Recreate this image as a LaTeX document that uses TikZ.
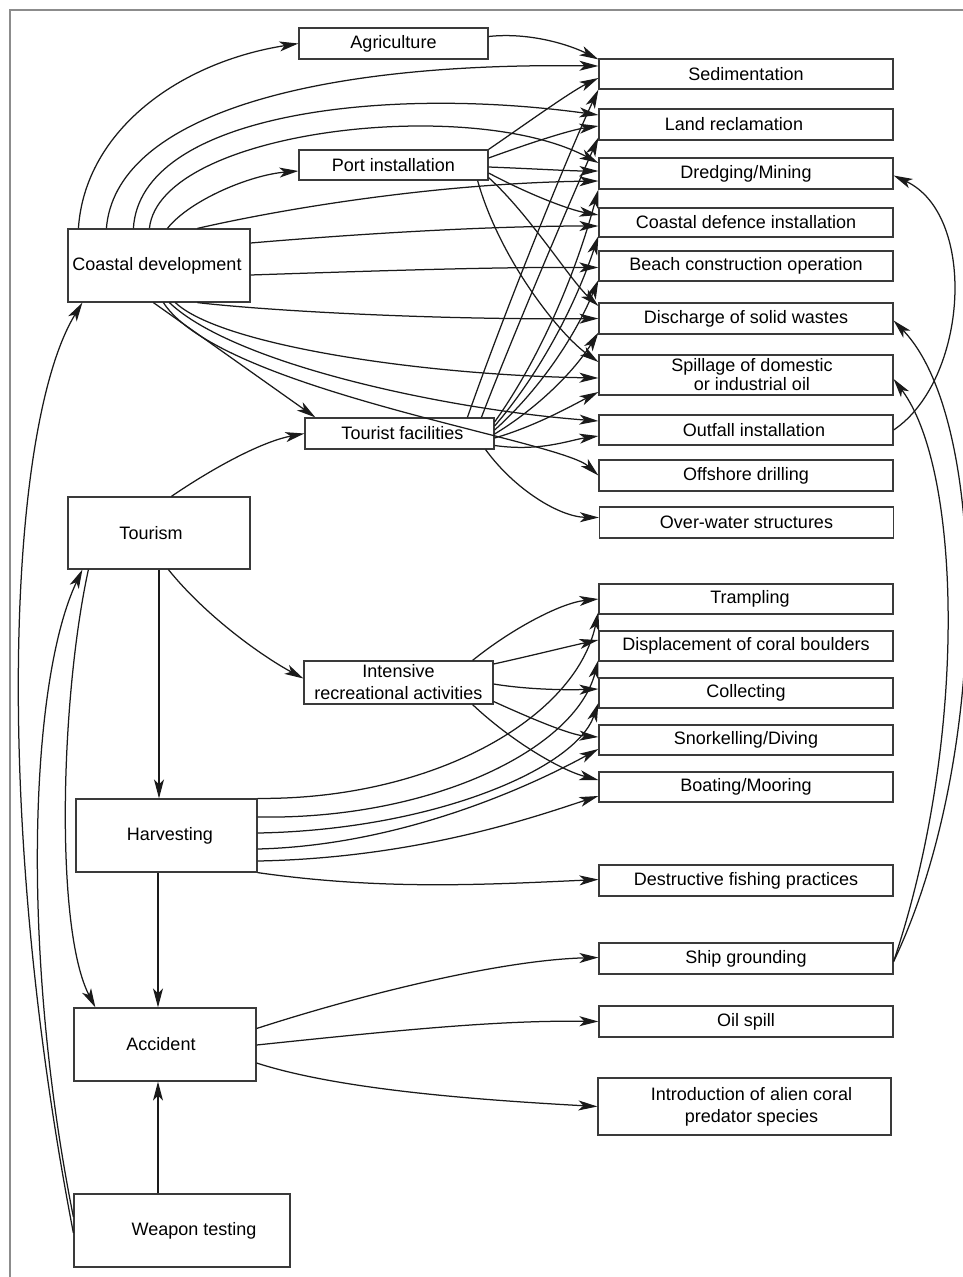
\documentclass[tikz,border=0pt]{standalone}
\usepackage{fontspec}
\setmainfont{Liberation Sans}
\usetikzlibrary{arrows.meta,calc}
\definecolor{boxc}{HTML}{3A3A3A}
\definecolor{linec}{HTML}{1A1A1A}
\definecolor{framec}{HTML}{8C8C8C}
\begin{document}
\begin{tikzpicture}[x=1pt,y=-1pt,
  box/.style={draw=boxc,line width=1.2pt,inner sep=0pt,align=center,font=\fontsize{18pt}{22pt}\selectfont},
  rbox/.style={box,minimum width=294pt,minimum height=#1},
  lbox/.style={box,minimum width=189pt,minimum height=#1},
  arr/.style={draw=linec,line width=1.25pt,-{Stealth[length=19pt,width=10pt,inset=5pt]}},
  frm/.style={draw=framec,line width=1.5pt}]
\useasboundingbox (0,0) rectangle (962,1277);
\draw[frm] (975,10) -- (10,10) -- (10,1290);

% right column
\node[rbox=30pt] (sed) at (746,74) {Sedimentation};
\node[rbox=31pt] (lr) at (746,124.5) {\hspace*{-24pt}Land reclamation};
\node[rbox=31pt] (dm) at (746,173.5) {Dredging/Mining};
\node[rbox=29pt] (cdi) at (746,222.5) {Coastal defence installation};
\node[rbox=30pt] (bco) at (746,266) {Beach construction operation};
\node[rbox=31pt] (dsw) at (746,318.5) {Discharge of solid wastes};
\node[rbox=40pt,font=\fontsize{18pt}{19pt}\selectfont] (sp) at (746,375) {\hspace*{12pt}Spillage of domestic\\\hspace*{12pt}or industrial oil};
\node[rbox=30pt] (oi) at (746,430) {\hspace*{16pt}Outfall installation};
\node[rbox=31pt] (od) at (746,475.5) {Offshore drilling};
\node[rbox=31pt] (ow) at (746.5,522.5) {Over-water structures};
\node[rbox=30pt] (tr) at (746,599) {\hspace*{8pt}Trampling};
\node[rbox=30pt] (dcb) at (746,646) {Displacement of coral boulders};
\node[rbox=30pt] (col) at (746,693) {Collecting};
\node[rbox=30pt] (sd) at (746,740) {Snorkelling/Diving};
\node[rbox=30pt] (bm) at (746,787) {Boating/Mooring};
\node[rbox=31pt] (dfp) at (746,880.5) {Destructive fishing practices};
\node[rbox=31pt] (sg) at (746,958.5) {Ship grounding};
\node[rbox=31pt] (os) at (746,1021.5) {Oil spill};
\node[box,minimum width=293pt,minimum height=57pt] (acp) at (744.5,1106.5) {\hspace*{14pt}Introduction of alien coral\\\hspace*{14pt}predator species};

% middle column
\node[lbox=31pt] (agr) at (393.5,43.5) {Agriculture};
\node[lbox=30pt] (pi) at (393.5,165) {Port installation};
\node[lbox=31pt] (tf) at (399.5,433.5) {\hspace*{6pt}Tourist facilities};
\node[lbox=43pt] (ira) at (398.5,682.5) {Intensive\\recreational activities};

% left column
\node[box,minimum width=182pt,minimum height=73pt] (cd) at (159,265.5) {\hspace*{-4pt}Coastal development};
\node[box,minimum width=182pt,minimum height=72pt] (tou) at (159,533) {\hspace*{-16pt}Tourism};
\node[box,minimum width=181pt,minimum height=73pt] (har) at (166.5,835.5) {\hspace*{7pt}Harvesting};
\node[box,minimum width=182pt,minimum height=73pt] (acc) at (165,1044.5) {\hspace*{-8pt}Accident};
\node[box,minimum width=216pt,minimum height=73pt] (wt) at (182,1230.5) {\hspace*{24pt}Weapon testing};

% agriculture
\draw[arr] ($(agr.east)+(0,-7)$) .. controls (530,32) and (570,45) .. ($(sed.north west)+(0,1)$);

% coastal development
\draw[arr] ($(cd.north west)+(11,0)$) .. controls (85,130) and (180,62) .. (agr.west);
\draw[arr] ($(cd.north west)+(39,0)$) .. controls (115,120) and (300,62) .. ($(sed.west)+(0,-8)$);
\draw[arr] ($(cd.north west)+(66,0)$) .. controls (140,115) and (380,85) .. ($(lr.west)+(0,-9.5)$);
\draw[arr] ($(cd.north west)+(82,0)$) .. controls (160,130) and (470,95) .. ($(dm.west)+(0,-10.5)$);
\draw[arr] ($(cd.north west)+(100,0)$) .. controls (190,200) and (250,175) .. ($(pi.west)+(0,6)$);
\draw[arr] ($(cd.north west)+(130,0)$) .. controls (300,205) and (450,183) .. ($(dm.west)+(0,7.5)$);
\draw[arr] ($(cd.east)+(0,-22.5)$) .. controls (380,232) and (500,226) .. ($(cdi.west)+(0,3.5)$);
\draw[arr] ($(cd.east)+(0,9.5)$) .. controls (400,270) and (500,267) .. ($(bco.west)+(0,1.5)$);
\draw[arr] ($(cd.south west)+(130,0)$) .. controls (280,312) and (450,320) .. (dsw.west);
\draw[arr] ($(cd.south west)+(108,0)$) .. controls (220,345) and (420,375) .. ($(sp.west)+(0,3)$);
\draw[arr] ($(cd.south west)+(102,0)$) .. controls (235,365) and (450,410) .. ($(oi.west)+(0,-9)$);
\draw[arr] ($(cd.south west)+(96,0)$) .. controls (220,390) and (560,440) .. (od.west);
\draw[arr] ($(cd.south west)+(86,0)$) -- ($(tf.north west)+(11,0)$);

% port installation
\draw[arr] (pi.north east) .. controls (520,128) and (570,92) .. ($(sed.west)+(0,4)$);
\draw[arr] ($(pi.east)+(0,-7)$) .. controls (530,143) and (570,130) .. ($(lr.west)+(0,1.5)$);
\draw[arr] ($(pi.east)+(0,2)$) .. controls (540,169) and (570,171) .. ($(dm.west)+(0,-2.5)$);
\draw[arr] ($(pi.east)+(0,8)$) .. controls (530,195) and (570,210) .. ($(cdi.west)+(0,-7.5)$);
\draw[arr] ($(pi.south east)+(0,-3)$) .. controls (530,215) and (570,280) .. ($(dsw.west)+(0,-12.5)$);
\draw[arr] ($(pi.south east)+(-11,0)$) .. controls (500,260) and (560,335) .. ($(sp.west)+(0,-13)$);

% tourist facilities
\draw[arr] ($(tf.north west)+(163,0)$) .. controls (505,310) and (570,150) .. (sed.south west);
\draw[arr] ($(tf.north west)+(177,0)$) .. controls (515,330) and (575,190) .. ($(lr.west)+(0,13)$);
\draw[arr] ($(tf.east)+(0,-11.5)$) .. controls (536,364) and (573,283) .. (dm.south west);
\draw[arr] ($(tf.east)+(0,-7.5)$) .. controls (536,378) and (573,312) .. ($(cdi.west)+(0,13.5)$);
\draw[arr] ($(tf.east)+(0,-3.5)$) .. controls (536,393) and (573,341) .. ($(bco.west)+(0,14)$);
\draw[arr] ($(tf.east)+(0,0.5)$) .. controls (536,409) and (573,373) .. ($(dsw.west)+(0,14)$);
\draw[arr] ($(tf.east)+(0,4.5)$) .. controls (536,426) and (573,405) .. ($(sp.west)+(0,17)$);
\draw[arr] ($(tf.east)+(0,12)$) .. controls (540,452) and (570,440) .. ($(oi.west)+(0,6)$);
\draw[arr] ($(tf.south east)+(-9,0)$) .. controls (515,490) and (560,517) .. ($(ow.west)+(0,-5)$);

% tourism
\draw[arr] ($(tou.north west)+(104,0)$) .. controls (210,470) and (260,442) .. (tf.west);
\draw[arr] ($(tou.south west)+(101,0)$) .. controls (205,615) and (260,655) .. ($(ira.west)+(0,-4)$);
\draw[arr] (tou.south) -- (tou.south |- har.north);

% intensive recreational activities
\draw[arr] ($(ira.north east)+(-21,0)$) .. controls (510,630) and (560,603) .. (tr.west);
\draw[arr] ($(ira.east)+(0,-18.5)$) .. controls (530,656) and (570,646) .. ($(dcb.west)+(0,-6)$);
\draw[arr] ($(ira.east)+(0,1.5)$) .. controls (530,690) and (570,690) .. ($(col.west)+(0,-4)$);
\draw[arr] ($(ira.east)+(0,19)$) .. controls (530,718) and (570,735) .. ($(sd.west)+(0,-3)$);
\draw[arr] ($(ira.south east)+(-21,0)$) .. controls (510,740) and (560,770) .. ($(bm.west)+(0,-7)$);

% harvesting
\draw[arr] (har.north east) .. controls (430,800) and (575,720) .. ($(tr.west)+(0,13)$);
\draw[arr] ($(har.east)+(0,-18.5)$) .. controls (430,820) and (575,750) .. ($(dcb.west)+(0,14)$);
\draw[arr] ($(har.east)+(0,-2.5)$) .. controls (430,830) and (575,770) .. ($(col.west)+(0,10)$);
\draw[arr] ($(har.east)+(0,13.5)$) .. controls (420,845) and (560,770) .. ($(sd.west)+(0,9)$);
\draw[arr] ($(har.east)+(0,25.5)$) .. controls (420,858) and (540,815) .. ($(bm.west)+(0,9)$);
\draw[arr] (har.south east) .. controls (380,890) and (480,885) .. ($(dfp.west)+(0,-1)$);
\coordinate (hsb) at ($(har.south)+(-8.5,0)$);
\draw[arr] (hsb) -- (hsb |- acc.north);

% accident
\draw[arr] ($(acc.east)+(0,-16)$) .. controls (360,995) and (500,960) .. ($(sg.west)+(0,-1)$);
\draw[arr] ($(acc.east)+(0,0.5)$) .. controls (400,1030) and (500,1020) .. (os.west);
\draw[arr] ($(acc.east)+(0,18.5)$) .. controls (340,1090) and (480,1100) .. (acp.west);

% weapon testing
\coordinate (wtn) at ($(wt.north)+(-24,0)$);
\draw[arr] (wtn) -- (wtn |- acc.south);
\draw[arr] ($(wt.west)+(0,2.5)$) .. controls (-10,800) and (10,420) .. ($(cd.south west)+(15,0)$);
\draw[arr] ($(wt.west)+(0,-13.5)$) .. controls (20,950) and (30,680) .. ($(tou.south west)+(15,0)$);
\draw[arr] ($(tou.south west)+(21,0)$) .. controls (60,700) and (55,930) .. ($(acc.north west)+(22,0)$);

% right-hand feedbacks
\draw[arr] (oi.east) .. controls (968,380) and (978,215) .. ($(dm.east)+(0,2)$);
\draw[arr] ($(sg.east)+(0,3)$) .. controls (990,760) and (990,420) .. ($(dsw.east)+(0,2)$);
\draw[arr] ($(sg.east)+(0,3)$) .. controls (968,740) and (962,470) .. ($(sp.east)+(0,4)$);
\end{tikzpicture}
\end{document}
